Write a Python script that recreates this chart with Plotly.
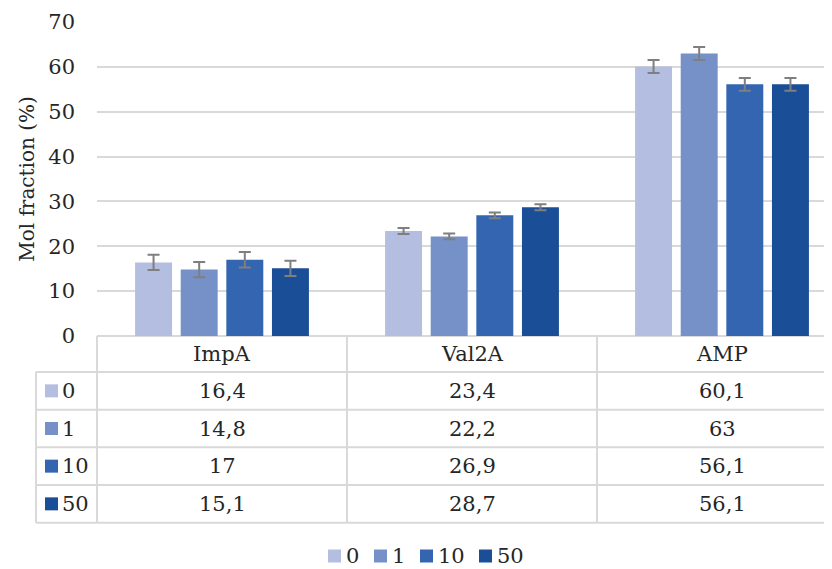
import plotly.graph_objects as go

# data
categories = ["ImpA", "Val2A", "AMP"]
series = ["0", "1", "10", "50"]
values_0 = [16.4, 23.4, 60.1]
values_1 = [14.8, 22.2, 63]
values_10 = [17, 26.9, 56.1]
values_50 = [15.1, 28.7, 56.1]
errors_0 = [1.7, 0.65, 1.45]
errors_1 = [1.7, 0.65, 1.45]
errors_10 = [1.75, 0.65, 1.4]
errors_50 = [1.7, 0.65, 1.4]
y_ticks = [0, 10, 20, 30, 40, 50, 60, 70]

values = [values_0, values_1, values_10, values_50]
errors = [errors_0, errors_1, errors_10, errors_50]
colors = ["#B4BEE0", "#7690C8", "#3465B0", "#1A4E96"]

FONT = "DejaVu Serif, Liberation Serif, serif"
TEXT = "#262626"
GRID = "#D9D9D9"
FS = 21

# geometry, in screen pixels (the page body adds an 8px margin)
OFF = 8
W, H = 832, 569                # window
L, T, BOT = 97, 22, 336        # plot area left / top / bottom on screen
CAT_W = 250                    # pixels per category


def px_x(px):
    return (px - L) / (W - L)


def px_y(py):
    return (BOT - py) / (BOT - T)


fig = go.Figure()

for name, vals, errs, col in zip(series, values, errors, colors):
    fig.add_trace(go.Bar(
        x=categories,
        y=vals,
        name=name,
        marker=dict(color=col, line=dict(width=0)),
        error_y=dict(type="data", array=errs, color="#7F7F7F", thickness=2, width=6),
        showlegend=False,
    ))

# ---- data table under the plot ----
row_lines = [372, 409.7, 447.3, 485, 522.7]
shapes = []
for py in row_lines:
    shapes.append(dict(type="line", xref="paper", yref="paper",
                       x0=px_x(36), x1=1, y0=px_y(py), y1=px_y(py),
                       line=dict(color=GRID, width=2)))
for px in [L, L + CAT_W, L + 2 * CAT_W]:
    shapes.append(dict(type="line", xref="paper", yref="paper",
                       x0=px_x(px), x1=px_x(px), y0=px_y(BOT), y1=px_y(row_lines[-1]),
                       line=dict(color=GRID, width=2)))
shapes.append(dict(type="line", xref="paper", yref="paper",
                   x0=px_x(36), x1=px_x(36), y0=px_y(row_lines[0]), y1=px_y(row_lines[-1]),
                   line=dict(color=GRID, width=2)))

annotations = []
txt_font = dict(size=FS, color=TEXT, family=FONT)
for i, c in enumerate(categories):
    annotations.append(dict(x=i, xref="x", y=px_y((BOT + row_lines[0]) / 2), yref="paper",
                            text=c, showarrow=False, xanchor="center", yanchor="middle",
                            font=txt_font))
for r, (name, vals, col) in enumerate(zip(series, values, colors)):
    yc = (row_lines[r] + row_lines[r + 1]) / 2
    for i, v in enumerate(vals):
        annotations.append(dict(x=i, xref="x", y=px_y(yc), yref="paper",
                                text=f"{v:g}".replace(".", ","), showarrow=False,
                                xanchor="center", yanchor="middle", font=txt_font))
    shapes.append(dict(type="rect", xref="paper", yref="paper",
                       x0=px_x(45), x1=px_x(58), y0=px_y(yc - 6.5), y1=px_y(yc + 6.5),
                       fillcolor=col, line=dict(width=0)))
    annotations.append(dict(x=px_x(60), xref="paper", y=px_y(yc), yref="paper",
                            text=name, showarrow=False, xanchor="left", yanchor="middle",
                            font=txt_font))

# ---- legend at the bottom ----
lx = 328
ly = 556
for name, col in zip(series, colors):
    shapes.append(dict(type="rect", xref="paper", yref="paper",
                       x0=px_x(lx), x1=px_x(lx + 13), y0=px_y(ly - 6.5), y1=px_y(ly + 6.5),
                       fillcolor=col, line=dict(width=0)))
    annotations.append(dict(x=px_x(lx + 16), xref="paper", y=px_y(ly), yref="paper",
                            text=name, showarrow=False, xanchor="left", yanchor="middle",
                            font=txt_font))
    lx += 13 + 7 + 13 * len(name) + 13

# figure shrunk by the body margin so the page does not overflow
fig.update_layout(
    width=W - OFF, height=H - OFF,
    margin=dict(l=L - OFF, r=0, t=T - OFF, b=H - BOT, autoexpand=False),
    paper_bgcolor="white", plot_bgcolor="white",
    font=dict(family=FONT, size=FS, color=TEXT),
    barmode="group", bargap=0.27, bargroupgap=0.19,
    shapes=shapes, annotations=annotations,
    showlegend=False,
)

fig.update_xaxes(range=[-0.5, -0.5 + (W - L) / CAT_W], showticklabels=False,
                 showgrid=False, ticks="", showline=False, zeroline=False)
fig.update_yaxes(range=[0, 70], tickvals=y_ticks, showgrid=True, gridcolor=GRID, gridwidth=1.5,
                 zeroline=True, zerolinecolor=GRID, zerolinewidth=2,
                 ticks="", ticklabelstandoff=21, showline=False,
                 tickfont=dict(size=FS, color=TEXT, family=FONT),
                 title=dict(text="Mol fraction (%)", font=dict(size=20, color=TEXT, family=FONT),
                            standoff=8))

fig.write_html("out.html")
